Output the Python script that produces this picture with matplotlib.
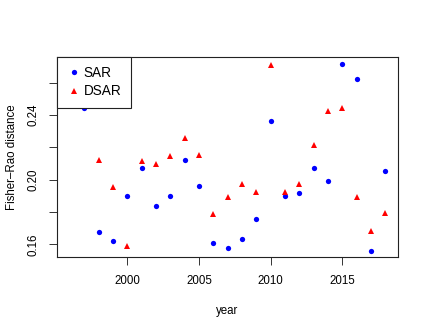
import matplotlib
matplotlib.use("Agg")
import matplotlib.pyplot as plt

plt.rcParams["font.family"] = ["Liberation Sans", "DejaVu Sans"]

years = list(range(1997, 2019))
sar = [0.2446, 0.1678, 0.1620, 0.1901, 0.2071, 0.1835, 0.1897, 0.2120, 0.1961,
       0.1606, 0.1579, 0.1635, 0.1755, 0.2362, 0.1899, 0.1918, 0.2071, 0.1992,
       0.2716, 0.2622, 0.1558, 0.2052]
dsar_years = list(range(1998, 2019))
dsar = [0.2122, 0.1953, 0.1589, 0.2118, 0.2097, 0.2149, 0.2256, 0.2153, 0.1786,
        0.1893, 0.1971, 0.1924, 0.2712, 0.1924, 0.1971, 0.2217, 0.2425, 0.2442,
        0.1891, 0.1682, 0.1792]

x_ticks = [2000, 2005, 2010, 2015]
y_ticks = [0.16, 0.18, 0.20, 0.22, 0.24, 0.26]
y_labels = ["0.16", "", "0.20", "", "0.24", ""]

fig = plt.figure(figsize=(4.27, 3.30), dpi=100)
ax = fig.add_axes([0.1342, 0.2203, 0.7974, 0.6079])

ax.plot(years, sar, "o", color="blue", markersize=3.8, markeredgewidth=0, label="SAR")
ax.plot(dsar_years, dsar, "^", color="red", markersize=5.0, markeredgewidth=0, label="DSAR")

ax.set_xlim(1995.12, 2018.88)
ax.set_ylim(0.15195, 0.27616)
ax.set_xticks(x_ticks)
ax.set_yticks(y_ticks)
ax.set_yticklabels(y_labels, rotation=90, va="center")
ax.tick_params(labelsize=8.3, length=6, width=0.7, pad=7, color="#333333")
for s in ax.spines.values():
    s.set_linewidth(0.8)
    s.set_color("#222222")

ax.set_xlabel("year", fontsize=8.3, labelpad=13)
ax.set_ylabel("Fisher\u2013Rao distance", fontsize=8.3, labelpad=7)

leg = ax.legend(loc="upper left", borderaxespad=0, fancybox=False, framealpha=1,
                edgecolor="#222222", fontsize=9.8, handletextpad=0.25,
                handlelength=1.0, borderpad=0.7, labelspacing=0.3)
leg.get_frame().set_linewidth(0.8)

fig.savefig("out.png", dpi=100)
